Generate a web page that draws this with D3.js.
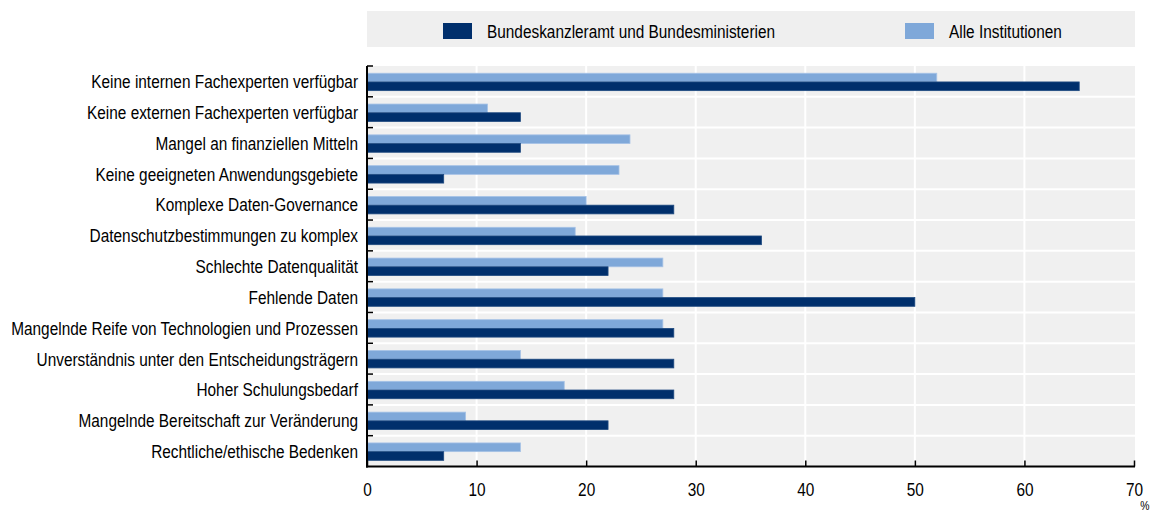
<!DOCTYPE html>
<html>
<head>
<meta charset="utf-8">
<script src="https://cdn.jsdelivr.net/npm/d3@7"></script>
<style>
  html, body { margin: 0; padding: 0; background: #fff; }
  svg text { font-family: "Liberation Sans Narrow", "Arial Narrow", sans-serif; fill: #000; }
</style>
</head>
<body>
<svg id="chart" width="1151" height="513"></svg>
<script>
const categories = [
  "Keine internen Fachexperten verfügbar",
  "Keine externen Fachexperten verfügbar",
  "Mangel an finanziellen Mitteln",
  "Keine geeigneten Anwendungsgebiete",
  "Komplexe Daten-Governance",
  "Datenschutzbestimmungen zu komplex",
  "Schlechte Datenqualität",
  "Fehlende Daten",
  "Mangelnde Reife von Technologien und Prozessen",
  "Unverständnis unter den Entscheidungsträgern",
  "Hoher Schulungsbedarf",
  "Mangelnde Bereitschaft zur Veränderung",
  "Rechtliche/ethische Bedenken"
];
const seriesNames = ["Alle Institutionen", "Bundeskanzleramt und Bundesministerien"];
const alleInstitutionen = [52, 11, 24, 23, 20, 19, 27, 27, 27, 14, 18, 9, 14];
const bundesministerien = [65, 14, 14, 7, 28, 36, 22, 50, 28, 28, 28, 22, 7];
const xTicks = [0, 10, 20, 30, 40, 50, 60, 70];
const legendOrder = ["Bundeskanzleramt und Bundesministerien", "Alle Institutionen"];
const unitLabel = "%";

const colors = {
  "Bundeskanzleramt und Bundesministerien": "#002F6C",
  "Alle Institutionen": "#7FA8D9"
};
const strokes = {
  "Bundeskanzleramt und Bundesministerien": "#1f4a80",
  "Alle Institutionen": "#a6c2e6"
};

const FS = 18.5;
const svg = d3.select("#chart");
const pLeft = 367, pRight = 1134, pTop = 66, pBottom = 466.5;

const x = d3.scaleLinear().domain([0, 70]).range([pLeft, pRight]);
const y = d3.scaleBand().domain(categories).range([pTop, pBottom]).padding(0);
const sub = d3.scaleBand().domain(seriesNames).range([0, y.bandwidth()])
  .paddingInner(0).paddingOuter(0.77).align(0.54);

// plot background
svg.append("rect").attr("x", pLeft).attr("y", pTop)
  .attr("width", pRight - pLeft + 1).attr("height", pBottom - pTop)
  .attr("fill", "#f0f0f0");

// gridlines
const grid = svg.append("g");
xTicks.filter(t => t > 0 && t < 70).forEach(t => {
  grid.append("line").attr("x1", x(t)).attr("x2", x(t))
    .attr("y1", pTop).attr("y2", pBottom)
    .attr("stroke", "#fff").attr("stroke-width", 2);
});
categories.slice(1).forEach(c => {
  grid.append("line").attr("x1", pLeft).attr("x2", pRight + 1)
    .attr("y1", y(c)).attr("y2", y(c))
    .attr("stroke", "#fff").attr("stroke-width", 2);
});

// bars
const data = categories.map((c, i) => ({
  cat: c,
  vals: [
    { s: "Alle Institutionen", v: alleInstitutionen[i] },
    { s: "Bundeskanzleramt und Bundesministerien", v: bundesministerien[i] }
  ]
}));
const rows = svg.append("g").selectAll("g").data(data).join("g")
  .attr("transform", d => `translate(0,${y(d.cat)})`);
rows.selectAll("rect").data(d => d.vals).join("rect")
  .attr("x", x(0))
  .attr("y", d => sub(d.s))
  .attr("width", d => x(d.v) - x(0))
  .attr("height", sub.bandwidth())
  .attr("fill", d => colors[d.s])
  .attr("stroke", d => strokes[d.s])
  .attr("stroke-width", 0.8);

// x axis
const xAxis = d3.axisBottom(x).tickValues(xTicks).tickSizeInner(-6).tickSizeOuter(0).tickPadding(16.7);
const gx = svg.append("g").attr("transform", `translate(0,${pBottom})`).call(xAxis);
gx.select(".domain").attr("stroke", "#000").attr("stroke-width", 2)
  .attr("d", `M${pLeft - 1},0H${pRight + 1}`);
gx.selectAll(".tick line").attr("stroke", "#000").attr("stroke-width", 1.5);
gx.selectAll(".tick text").attr("font-size", FS).attr("font-family", null).attr("fill", "#000");

// y axis
const yAxis = d3.axisLeft(y).tickSize(0).tickPadding(9);
const gy = svg.append("g").attr("transform", `translate(${pLeft},0)`).call(yAxis);
gy.select(".domain").attr("stroke", "#000").attr("stroke-width", 2)
  .attr("d", `M0,${pTop}V${pBottom + 1}`);
gy.selectAll(".tick text").attr("font-size", FS).attr("font-family", null).attr("fill", "#000")
  .attr("dy", "0.37em");
// y boundary ticks (inward)
categories.forEach(c => {
  svg.append("line").attr("x1", pLeft).attr("x2", pLeft + 6)
    .attr("y1", y(c)).attr("y2", y(c))
    .attr("stroke", "#000").attr("stroke-width", 1.5);
});

// unit label
svg.append("text").attr("x", 1145).attr("y", 510).attr("font-size", 12.5)
  .attr("text-anchor", "middle").text(unitLabel);

// legend
svg.append("rect").attr("x", 367).attr("y", 11).attr("width", 768).attr("height", 36)
  .attr("fill", "#efefef");
const legendX = [443, 905];
const lg = svg.append("g").selectAll("g").data(legendOrder).join("g")
  .attr("transform", (d, i) => `translate(${legendX[i]},23)`);
lg.append("rect").attr("width", 29).attr("height", 16)
  .attr("fill", d => colors[d]);
lg.append("text").attr("x", 44).attr("y", 14.5).attr("font-size", FS).text(d => d);

// match the reference text width (condensed face)
const probe = gy.select(".tick text").node();
const w = probe.getComputedTextLength();
const target = 267;
const s = target / w;
if (Math.abs(s - 1) > 0.005) {
  svg.selectAll("text").each(function () {
    const t = d3.select(this);
    const tx = +t.attr("x") || 0;
    t.attr("transform", `translate(${tx * (1 - s)},0) scale(${s},1)`);
  });
}
</script>
</body>
</html>
